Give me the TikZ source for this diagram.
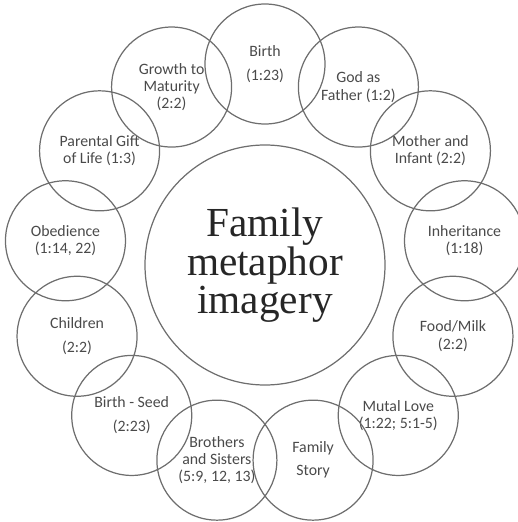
\documentclass[tikz,border=0pt]{standalone}
\usepackage{fontspec}
\setmainfont{Liberation Serif}
\newfontfamily\petalfont{Carlito}
\definecolor{ringline}{HTML}{6E6E6E}
\definecolor{ringtext}{HTML}{4A4A4A}
\begin{document}
\begin{tikzpicture}[
    petal/.style={circle,draw=ringline,line width=.7pt,minimum size=2.4cm,inner sep=0pt,
      align=center,text=ringtext,font=\petalfont\fontsize{9}{9.9}\selectfont},
    hub/.style={circle,draw=ringline,line width=.7pt,minimum size=4.8cm,inner sep=0pt,
      align=center,text=black!85,font=\rmfamily\fontsize{23.5}{20.5}\selectfont}]
    \def\ring{4.02}
    \def\gap{27.6923}
    \useasboundingbox (-5.3,-5.14) rectangle (5.06,5.3);

    % centre
    \node[hub] (hub) at (0,0) {Family\\metaphor\\imagery};

    % ring of 13 images, clockwise from the top
    \foreach \txt [count=\i] in {
        {Birth\\[3.7pt](1:23)},
        {God as\\Father (1:2)},
        {Mother and\\Infant (2:2)},
        {Inheritance\\(1:18)},
        {Food/Milk\\(2:2)},
        {Mutal Love\\(1:22; 5:1-5)},
        {Family\\[3.2pt]Story},
        {Brothers\\and Sisters\\(5:9, 12, 13)},
        {Birth - Seed\\[3.7pt](2:23)},
        {Children\\[3.7pt](2:2)},
        {Obedience\\(1:14, 22)},
        {Parental Gift\\of Life (1:3)},
        {Growth to\\Maturity\\(2:2)}}
      \node[petal] (p\i) at ({90-(\i-1)*\gap}:\ring) {\txt};
\end{tikzpicture}
\end{document}
